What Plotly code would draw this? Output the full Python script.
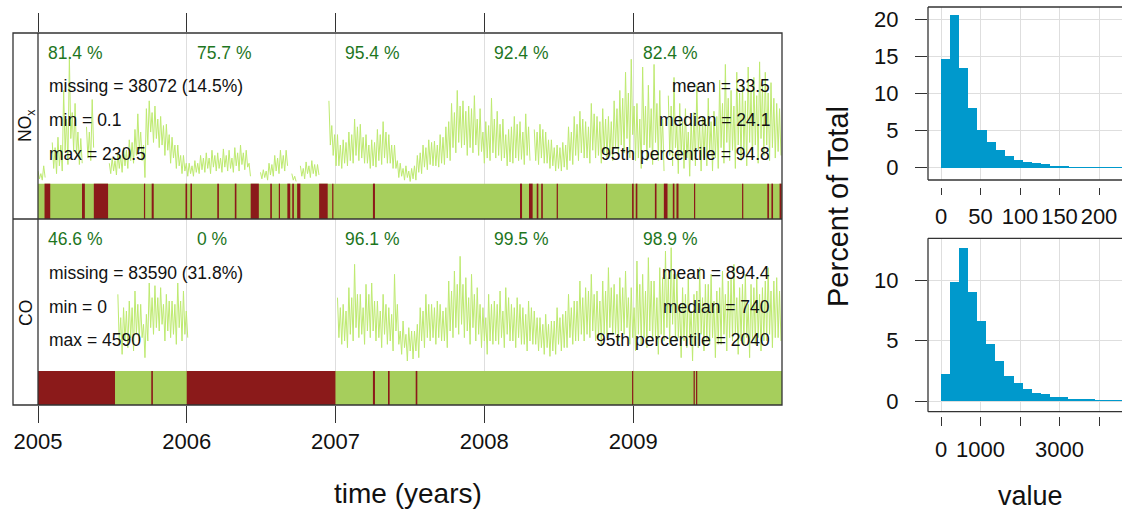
import plotly.graph_objects as go
import pandas as pd
import numpy as np

W, H = 1122, 510
def px(x):
    return x / W
def py(y):
    return 1 - y / H

FONT = "Liberation Sans, Arial, sans-serif"
N = None

# ---------------- data ----------------
# weekly high / low of the daily means (high at start of week, low mid-week)
START = "2005-01-01"

nox_hi_2005 = [10, 8, 14, N, N, 32, 28, 36, 30, 72, 50, 98, 55, 62, 40, 35, N, 44, 40, 65,
               N, N, N, N, N, 16, 20, 18, 24, 22, 28, 26, 34, 32, 42, 54, 40, 30, 58, 64,
               55, 60, 50, 52, 45, 46, 38, 36, 30, 30, 22, 22, 16]
nox_lo_2005 = [4, 3, 5, N, N, 12, 8, 14, 10, 25, 15, 35, 25, 22, 15, 16, N, 20, 18, 28,
               N, N, N, N, N, 8, 10, 7, 12, 9, 14, 12, 18, 16, 22, 26, 18, 5, 30, 40,
               32, 35, 28, 30, 22, 26, 16, 20, 12, 14, 8, 10, 6]
nox_hi_2006 = [16, 14, 18, 16, 22, 20, 24, 20, 26, 22, 24, 20, 27, 22, 26, 20, 28, 24, 30, 24,
               26, 16, N, N, N, 9, 11, 10, 16, 15, 22, 20, 26, 22, 26, N, 8, 6, N, 14,
               12, 17, 14, 18, 15, 15, N, N, N, 64, 45, 38]
nox_lo_2006 = [8, 6, 9, 8, 11, 9, 12, 8, 13, 10, 12, 9, 13, 10, 12, 9, 14, 10, 15, 11,
               13, 6, N, N, N, 4, 5, 3, 7, 6, 10, 8, 12, 10, 14, N, 3, 2, N, 6,
               4, 8, 5, 8, 6, 7, N, N, N, 30, 22, 14]
nox_hi_2007 = [38, 30, 34, 32, 40, 38, 50, 44, 46, 36, 38, 30, 34, 32, 42, 38, 48, 40, 38, 30,
               30, 18, 16, 12, 14, 10, 12, 14, 22, 24, 30, 28, 34, 32, 33, 30, 38, 36, 44, 48,
               62, 55, 72, 60, 64, 56, 60, 58, 68, 50, 58, 40, 48]
nox_lo_2007 = [14, 12, 16, 14, 18, 16, 22, 18, 20, 16, 16, 12, 14, 13, 18, 15, 20, 16, 16, 12,
               12, 5, 6, 3, 5, 2, 4, 3, 9, 8, 13, 11, 15, 14, 14, 13, 16, 15, 20, 18,
               28, 24, 32, 28, 30, 22, 28, 24, 30, 22, 25, 16, 20]
nox_hi_2008 = [45, 66, 50, 56, 46, 50, 38, 42, 44, 52, 46, 48, 40, 54, 44, N, 42, 40, 46, 42,
               40, 34, 34, 28, 30, 28, 32, 30, 44, 40, 52, 46, 56, 50, 48, 44, 62, 54, 52, 48,
               58, 50, 52, 48, 64, 58, 72, 66, 86, 70, 96, 60]
nox_lo_2008 = [18, 24, 20, 22, 18, 20, 14, 17, 16, 20, 18, 19, 15, 22, 18, N, 18, 15, 20, 16,
               16, 12, 14, 10, 12, 10, 13, 11, 18, 15, 22, 18, 24, 20, 20, 16, 26, 20, 22, 16,
               24, 20, 22, 18, 28, 22, 30, 24, 35, 20, 38, 18]
nox_hi_2009 = [62, 50, 90, 60, 76, 58, 92, 62, 72, 50, N, 68, 60, 82, 45, 62, 48, 58, 40, 50,
               55, 76, 45, 52, 50, 66, 48, 56, 52, 80, 62, 92, 66, 72, 60, 86, 70, 76, 64, 90,
               72, 82, 68, 94, 76, 86, 70, 78, 66, 62, 58]
nox_lo_2009 = [20, 12, 30, 18, 28, 15, 32, 18, 25, 10, N, 22, 14, 28, 8, 22, 12, 20, 6, 18,
               14, 26, 10, 20, 14, 24, 10, 20, 12, 28, 16, 32, 18, 26, 12, 30, 18, 26, 14, 32,
               20, 30, 16, 35, 22, 30, 18, 28, 20, 25, 22]

co_hi_2005 = [N] * 28 + [1150, 800, 950, 900, 1050, 950, 1200, 1000, 1000, 700, 850, 1320, 1100,
                         1280, 1100, 1250, 1000, 1150, 1050, 1050, 1000, 1320, 1050, 1200, 900]
co_lo_2005 = [N] * 28 + [400, 250, 450, 350, 500, 300, 550, 450, 500, 200, 450, 650, 550,
                         650, 600, 700, 450, 600, 500, 550, 400, 650, 450, 550, 500]
co_hi_2006 = [N] * 52
co_lo_2006 = [N] * 52
co_hi_2007 = [1100, 950, 1000, 900, 1250, 1100, 1600, 1150, 1150, 950, 1300, 1150, 1320, 1050, 1050,
              900, 1150, 1000, 950, 850, 1450, 1000, 600, 750, 550, 650, 600, 600, 700, 950,
              900, 1150, 1000, 1000, 950, 1050, 1000, 900, 950, 1350, 1200, 1500, 1300, 1720, 1300,
              1400, 1100, 1450, 1150, 1250, 1000, 950, 800]
co_lo_2007 = [500, 400, 450, 350, 550, 450, 650, 500, 550, 400, 600, 500, 600, 450, 500,
              350, 550, 400, 450, 300, 600, 400, 250, 350, 150, 300, 180, 300, 200, 450,
              350, 500, 450, 500, 400, 500, 450, 450, 350, 600, 500, 650, 550, 700, 500,
              600, 400, 650, 450, 550, 350, 450, 250]
co_hi_2008 = [1150, 1000, 1050, 1000, 1200, 900, 1250, 1100, 1000, 950, 1100, 1000, 950, 850, 1050,
              950, 900, 800, 800, 700, 850, 700, 750, 750, 950, 800, 850, 900, 1150, 950,
              1050, 1050, 1350, 1100, 1250, 1200, 1450, 1150, 1200, 1050, 1350, 1200, 1550, 1250, 1300,
              1150, 1400, 1250, 1500, 1100, 1250, 950]
co_lo_2008 = [450, 400, 450, 400, 500, 350, 550, 450, 450, 350, 500, 400, 400, 300, 450,
              400, 400, 300, 350, 250, 350, 220, 300, 250, 400, 300, 350, 350, 500, 400,
              450, 450, 550, 450, 550, 500, 600, 450, 500, 400, 550, 500, 650, 550, 550,
              450, 600, 550, 650, 400, 500, 300]
co_hi_2009 = [1650, 1300, 1450, 1200, 1700, 1350, 1350, 1100, 1550, 1400, 1800, 1400, 1850, 1450, 1450,
              1000, 1250, 1150, 1400, 900, 1150, 1200, 1550, 1100, 1300, 1300, 1450, 1050, 1200, 1250,
              1500, 1150, 1350, 1400, 1600, 1100, 1250, 1300, 1450, 1000, 1300, 1250, 1400, 1150, 1250,
              1350, 1550, 1200, 1350, 1400, 1200]
co_lo_2009 = [550, 400, 500, 350, 600, 450, 500, 250, 550, 450, 650, 400, 700, 450, 500,
              200, 450, 350, 500, 150, 400, 350, 550, 300, 450, 400, 500, 200, 400, 400,
              550, 300, 500, 450, 550, 250, 450, 400, 500, 200, 450, 400, 500, 300, 450,
              450, 550, 350, 500, 500, 450]

nox_missing = [("2005-01-17", "2005-01-31"), ("2005-04-19", "2005-04-26"), ("2005-05-18", "2005-06-22"),
               ("2005-09-18", "2005-09-21"), ("2005-10-07", "2005-10-12"), ("2005-12-29", "2006-01-02"),
               ("2006-01-10", "2006-01-14"), ("2006-03-17", "2006-03-21"), ("2006-04-29", "2006-05-03"),
               ("2006-06-07", "2006-06-27"), ("2006-07-25", "2006-07-29"), ("2006-08-15", "2006-08-18"),
               ("2006-09-05", "2006-09-12"), ("2006-09-17", "2006-09-21"), ("2006-09-29", "2006-10-07"),
               ("2006-11-22", "2006-12-13"), ("2006-12-24", "2006-12-27"), ("2007-04-03", "2007-04-08"),
               ("2008-03-29", "2008-04-03"), ("2008-04-20", "2008-04-29"), ("2008-05-09", "2008-05-13"),
               ("2008-05-20", "2008-05-24"), ("2008-06-27", "2008-06-30"), ("2008-10-26", "2008-10-29"),
               ("2008-12-29", "2009-01-02"), ("2009-01-07", "2009-01-11"), ("2009-02-23", "2009-02-27"),
               ("2009-03-17", "2009-03-26"), ("2009-04-08", "2009-04-12"), ("2009-04-17", "2009-04-22"),
               ("2009-05-30", "2009-06-02"), ("2009-09-25", "2009-09-28"), ("2009-11-26", "2009-11-30"),
               ("2009-12-06", "2009-12-10"), ("2009-12-26", "2009-12-31")]
co_missing = [("2005-01-01", "2005-07-09"), ("2005-10-06", "2005-10-10"), ("2006-01-01", "2007-01-01"),
              ("2007-04-03", "2007-04-08"), ("2007-05-10", "2007-05-14"), ("2007-07-17", "2007-07-21"),
              ("2008-12-29", "2009-01-01"), ("2009-05-29", "2009-06-01"), ("2009-06-04", "2009-06-07")]

years = ["2005", "2006", "2007", "2008", "2009"]
nox_capture = ["81.4 %", "75.7 %", "95.4 %", "92.4 %", "82.4 %"]
co_capture = ["46.6 %", "0 %", "96.1 %", "99.5 %", "98.9 %"]
nox_stats_left = ["missing = 38072 (14.5%)", "min = 0.1", "max = 230.5"]
nox_stats_right = ["mean = 33.5", "median = 24.1", "95th percentile = 94.8"]
co_stats_left = ["missing = 83590 (31.8%)", "min = 0", "max = 4590"]
co_stats_right = ["mean = 894.4", "median = 740", "95th percentile = 2040"]

nox_min, nox_max = 0.1, 230.5
co_min, co_max = 0, 4590
nox_hist_pct = [14.6, 20.5, 13.45, 8.0, 5.1, 3.5, 2.35, 1.6, 1.0, 0.8, 0.6, 0.45, 0.27, 0.2,
                0.04, 0.03, 0.02, 0.01, 0.01, 0.01]
co_hist_pct = [2.2, 9.8, 12.65, 9.0, 6.6, 4.7, 3.26, 2.07, 1.46, 0.97, 0.64, 0.52, 0.33, 0.3,
               0.17, 0.14, 0.12, 0.02, 0.01, 0.01]
nox_hist_ticks = [0, 50, 100, 150, 200]
co_hist_ticks = [0, 1000, 3000]
co_hist_minor_ticks = [2000, 4000]

# ---------------- styles ----------------
LINE_COL = "rgb(190,234,112)"
OK_COL = "rgb(166,206,92)"
MIS_COL = "rgb(139,26,26)"
HIST_COL = "rgb(0,153,204)"
TXT_GREEN = "rgb(30,118,30)"
FRAME = "#333333"
GRID = "#dedede"

def interleave(hi_parts, lo_parts):
    hi = sum(hi_parts, [])
    lo = sum(lo_parts, [])
    d_hi = pd.date_range(START, periods=len(hi), freq="7D")
    d_lo = d_hi + pd.Timedelta(hours=84)
    xs, ys = [], []
    for a, b, va, vb in zip(d_hi, d_lo, hi, lo):
        xs += [a, b]
        ys += [va, vb]
    return xs, ys

nox_x, nox_y = interleave([nox_hi_2005, nox_hi_2006, nox_hi_2007, nox_hi_2008, nox_hi_2009],
                          [nox_lo_2005, nox_lo_2006, nox_lo_2007, nox_lo_2008, nox_lo_2009])
co_x, co_y = interleave([co_hi_2005, co_hi_2006, co_hi_2007, co_hi_2008, co_hi_2009],
                        [co_lo_2005, co_lo_2006, co_lo_2007, co_lo_2008, co_lo_2009])

fig = go.Figure()
fig.add_trace(go.Scatter(x=nox_x, y=nox_y, mode="lines", line=dict(color=LINE_COL, width=1),
                         connectgaps=False, xaxis="x", yaxis="y", hoverinfo="skip", showlegend=False))
fig.add_trace(go.Scatter(x=co_x, y=co_y, mode="lines", line=dict(color=LINE_COL, width=1),
                         connectgaps=False, xaxis="x", yaxis="y2", hoverinfo="skip", showlegend=False))
# dummy trace for top tick axis
fig.add_trace(go.Scatter(x=[nox_x[0]], y=[None], xaxis="x2", yaxis="y", showlegend=False,
                         hoverinfo="skip"))

def hist(pcts, lo, hi, xa, ya):
    edges = np.linspace(lo, hi, len(pcts) + 1)
    centers = (edges[:-1] + edges[1:]) / 2
    fig.add_trace(go.Bar(x=centers, y=pcts, width=edges[1] - edges[0], marker_color=HIST_COL,
                         marker_line_width=0, xaxis=xa, yaxis=ya, showlegend=False, hoverinfo="skip"))

hist(nox_hist_pct, nox_min, nox_max, "x3", "y3")
hist(co_hist_pct, co_min, co_max, "x4", "y4")

year_dates = [f"{y}-01-01" for y in years]
tickfont = dict(family=FONT, size=22, color="#111")

fig.update_layout(
    width=W, height=H, margin=dict(l=0, r=0, t=0, b=0, autoexpand=False),
    paper_bgcolor="white", plot_bgcolor="white", bargap=0,
    font=dict(family=FONT, color="#111"),
    xaxis=dict(domain=[px(38), px(782)], type="date", range=["2005-01-01", "2010-01-01"],
               anchor="y2", tickvals=year_dates, ticktext=years, ticks="outside", ticklen=17,
               tickcolor=FRAME, tickwidth=1.2, showline=False, showgrid=True, gridcolor=GRID,
               gridwidth=1, zeroline=False, tickfont=tickfont, ticklabelstandoff=0, automargin=False),
    xaxis2=dict(overlaying="x", type="date", range=["2005-01-01", "2010-01-01"], anchor="y",
                side="top", tickvals=year_dates, showticklabels=False, ticks="outside", ticklen=19,
                tickcolor=FRAME, tickwidth=1.2, showgrid=False, showline=False, zeroline=False,
                automargin=False),
    yaxis=dict(domain=[py(219), py(33)], range=[-26.9, 116.2], visible=False),
    yaxis2=dict(domain=[py(405), py(219)], range=[-510, 2280], visible=False),
    xaxis3=dict(domain=[px(928), 1], range=[-16.46, 229.1], anchor="free", position=py(187),
                tickvals=nox_hist_ticks, ticks="outside", ticklen=7, tickcolor=FRAME, tickwidth=1.2,
                showgrid=True, gridcolor=GRID, zeroline=False, showline=False, tickfont=tickfont,
                ticklabelstandoff=3, automargin=False),
    yaxis3=dict(domain=[py(180), py(7)], range=[-1.666, 21.62], anchor="x3",
                tickvals=[0, 5, 10, 15, 20], ticks="outside", ticklen=12, tickcolor=FRAME,
                tickwidth=1.2, showgrid=True, gridcolor=GRID, zeroline=False, showline=False,
                tickfont=tickfont, ticklabelstandoff=12, automargin=False),
    xaxis4=dict(domain=[px(928), 1], range=[-329, 4582], anchor="free", position=py(416),
                tickvals=co_hist_ticks, ticks="outside", ticklen=9,
                tickcolor=FRAME, tickwidth=1.2, showgrid=True, gridcolor=GRID, zeroline=False,
                showline=False, tickfont=tickfont, ticklabelstandoff=5, automargin=False,
                minor=dict(tickvals=co_hist_minor_ticks, ticks="outside", ticklen=9, tickcolor=FRAME,
                           tickwidth=1.2, showgrid=True, gridcolor=GRID)),
    yaxis4=dict(domain=[py(411.7), py(238.3)], range=[-0.886, 13.48], anchor="x4",
                tickvals=[0, 5, 10], ticks="outside", ticklen=12, tickcolor=FRAME, tickwidth=1.2,
                showgrid=True, gridcolor=GRID, zeroline=False, showline=False, tickfont=tickfont,
                ticklabelstandoff=12, automargin=False),
)

shapes = []
# data-capture bands
for yref, frac, missing in (("y", 0.19, nox_missing), ("y2", 0.183, co_missing)):
    shapes.append(dict(type="rect", xref="x", yref=f"{yref} domain", x0="2005-01-01", x1="2010-01-01",
                       y0=0, y1=frac, fillcolor=OK_COL, line_width=0, layer="above"))
    for a, b in missing:
        shapes.append(dict(type="rect", xref="x", yref=f"{yref} domain", x0=a, x1=b,
                           y0=0, y1=frac, fillcolor=MIS_COL, line_width=0, layer="above"))
# frames
fl = dict(color=FRAME, width=1.3)
shapes.append(dict(type="rect", xref="paper", yref="paper", x0=px(13), x1=px(782), y0=py(405), y1=py(33), line=fl))
shapes.append(dict(type="line", xref="paper", yref="paper", x0=px(38), x1=px(38), y0=py(405), y1=py(33), line=fl))
shapes.append(dict(type="line", xref="paper", yref="paper", x0=px(13), x1=px(782), y0=py(219), y1=py(219), line=fl))
for top, bot in ((7, 180), (238.3, 411.7)):
    shapes.append(dict(type="line", xref="paper", yref="paper", x0=px(928), x1=px(928), y0=py(bot), y1=py(top), line=fl))
    shapes.append(dict(type="line", xref="paper", yref="paper", x0=px(928), x1=1, y0=py(top), y1=py(top), line=fl))
    shapes.append(dict(type="line", xref="paper", yref="paper", x0=px(928), x1=1, y0=py(bot), y1=py(bot), line=fl))
fig.update_layout(shapes=shapes)

ann = []
def txt(x, y, s, size=17.5, xanchor="left", color="#111", xref="paper", xshift=0):
    ann.append(dict(x=x, y=py(y), xref=xref, yref="paper", text=s, showarrow=False,
                    xanchor=xanchor, yanchor="middle", xshift=xshift,
                    font=dict(family=FONT, size=size, color=color)))

for yd, c1, c2 in zip(year_dates, nox_capture, co_capture):
    txt(yd, 53.5, c1, color=TXT_GREEN, xref="x", xshift=8)
    txt(yd, 238.5, c2, color=TXT_GREEN, xref="x", xshift=8)
for i, (l, r) in enumerate(zip(nox_stats_left, nox_stats_right)):
    txt(px(47), 86 + 34 * i, l)
    txt(px(772), 86 + 34 * i, r, xanchor="right")
for i, (l, r) in enumerate(zip(co_stats_left, co_stats_right)):
    txt(px(47), 273 + 33.5 * i, l)
    txt(px(772), 273 + 33.5 * i, r, xanchor="right")

def label(x, y, s, size, angle=0):
    ann.append(dict(x=px(x), y=py(y), xref="paper", yref="paper", text=s, showarrow=False,
                    xanchor="center", yanchor="middle", textangle=angle,
                    font=dict(family=FONT, size=size, color="#111")))

label(26, 126, "NO<sub>x</sub>", 17.5, -90)
label(26, 313, "CO", 17.5, -90)
label(408, 493, "time (years)", 28)
label(838, 207, "Percent of Total", 29, -90)
label(1030, 496, "value", 27)
fig.update_layout(annotations=ann)

fig.write_html("out.html")
